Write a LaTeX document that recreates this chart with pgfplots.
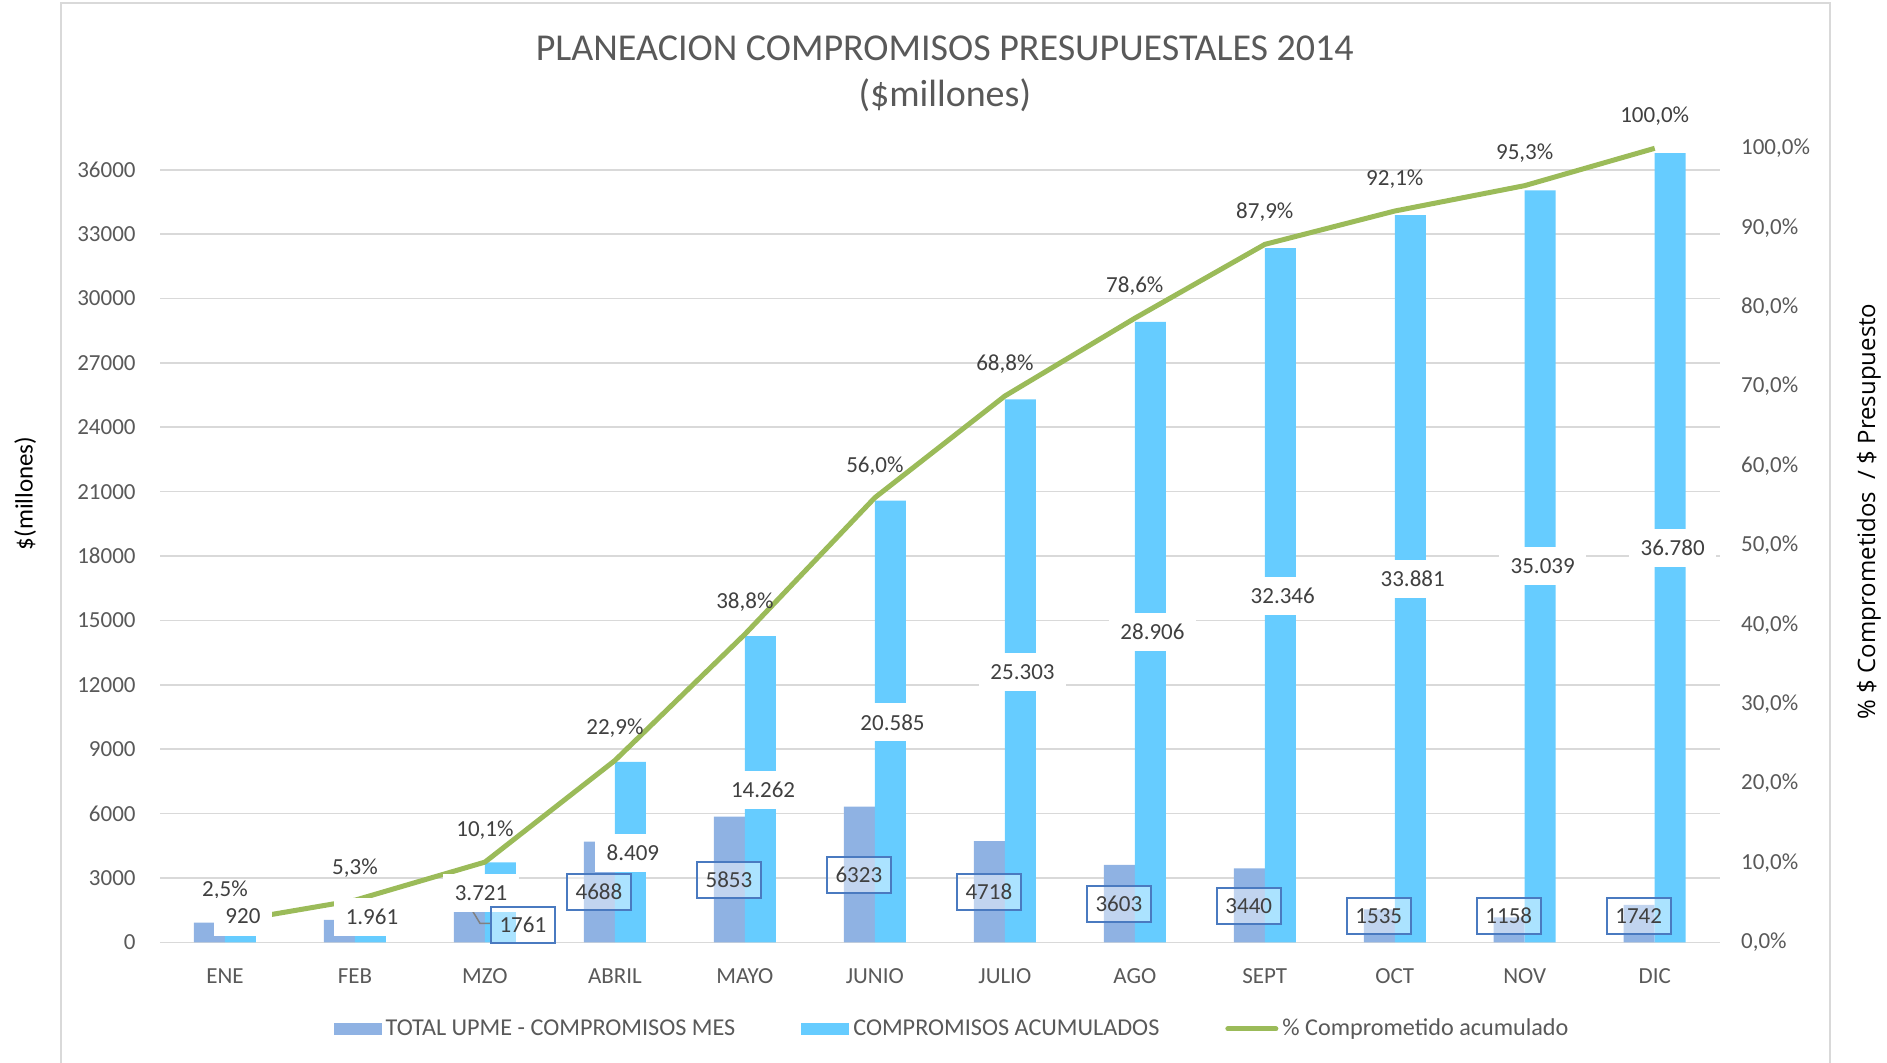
\documentclass[border=0pt]{standalone}
\usepackage{pgfplots}
\pgfplotsset{compat=1.18}
\usepackage{pgfplotstable}
\usepackage{fontspec}
\setmainfont{Carlito}
\newfontfamily\osans{Open Sans}
\definecolor{mesc}{HTML}{8FB2E3}
\definecolor{acumc}{HTML}{66CCFF}
\definecolor{linec}{HTML}{9BBB59}
\definecolor{gridc}{HTML}{D9D9D9}
\definecolor{txt}{HTML}{595959}
\definecolor{lab}{HTML}{404040}
\definecolor{boxc}{HTML}{4A7AC0}
\newcommand{\fsa}{\fontsize{11.5pt}{14pt}\selectfont}
\newcommand{\fsl}{\fontsize{12.1pt}{14pt}\selectfont}

\pgfplotstableread{
i mes acum pct
0 920 920 2.5
1 1041 1961 5.3
2 1761 3721 10.1
3 4688 8409 22.9
4 5853 14262 38.8
5 6323 20585 56.0
6 4718 25303 68.8
7 3603 28906 78.6
8 3440 32346 87.9
9 1535 33881 92.1
10 1158 35039 95.3
11 1742 36780 100.0
}\datos

\pgfplotstableread{
i val dx ly
0 920 0.138 1200
1 1961 0.131 1180
2 3721 -0.03 2283
3 8409 0.138 4180
4 14262 0.14 7097
5 20585 0.136 10250
6 25303 0.136 12610
7 28906 0.136 14469
8 32346 0.138 16150
9 33881 0.138 16938
10 35039 0.138 17544
11 36780 0.138 18374
}\acumlab

\pgfplotstableread{
i val dx ly
2 1761 0.292 811
3 4688 -0.123 2344
4 5853 -0.123 2903
5 6323 -0.123 3136
6 4718 -0.123 2345
7 3603 -0.123 1785
8 3440 -0.123 1692
9 1535 -0.123 1240
10 1158 -0.123 1240
11 1742 -0.123 1240
}\meslab

\begin{document}
\begin{tikzpicture}
\useasboundingbox (0,0) rectangle (943.5pt,531pt);
\draw[gridc, line width=1pt] (30.5pt,-5pt) -- (30.5pt,529.25pt) -- (915pt,529.25pt) -- (915pt,-5pt);

\begin{axis}[
  at={(80pt,59.85pt)}, anchor=south west,
  width=779.85pt, height=397pt, scale only axis,
  xmin=-0.5, xmax=11.5, ymin=0, ymax=37000,
  axis line style={draw=none}, major tick length=0pt,
  xtick={0,...,11},
  xticklabels={ENE,FEB,MZO,ABRIL,MAYO,JUNIO,JULIO,AGO,SEPT,OCT,NOV,DIC},
  xticklabel style={font=\fsa, text=txt, anchor=base, yshift=-20.5pt},
  ytick={0,3000,...,36000},
  scaled y ticks=false,
  yticklabel style={font=\fsa, text=txt, anchor=east, inner sep=0pt, xshift=-12pt},
  /pgf/number format/1000 sep={},
  /pgf/number format/assume math mode=true,
  ymajorgrids,
  grid style={gridc, line width=0.8pt},
  clip=false,
  legend columns=3,
  legend cell align=left,
  legend style={at={(axis description cs:0.5085,-0.109)}, anchor=center,
    draw=none, fill=none, font=\fsl, text=txt,
    /tikz/every even column/.append style={column sep=31pt}},
]
\addplot[ybar, bar width=15.5pt, bar shift=-7.75pt, fill=mesc, draw=none,
  legend image code/.code={\fill[mesc] (0pt,-3pt) rectangle (24pt,3pt);}]
  table[x=i, y=mes]{\datos};
\addlegendentry{TOTAL UPME - COMPROMISOS MES}
\addplot[ybar, bar width=15.5pt, bar shift=7.75pt, fill=acumc, draw=none,
  legend image code/.code={\fill[acumc] (0pt,-3pt) rectangle (24pt,3pt);}]
  table[x=i, y=acum]{\datos};
\addlegendentry{COMPROMISOS ACUMULADOS}
\addplot[linec, line width=2.5pt, mark=none, line join=round,
  legend image code/.code={\draw[linec, line width=2.5pt, line cap=round] (0pt,0pt) -- (24pt,0pt);},
  nodes near coords={\pgfmathprintnumber[fixed, fixed zerofill, precision=1, use comma]{\pgfplotspointmeta}\%},
  point meta=\thisrow{pct},
  every node near coord/.append style={font=\fsa, text=lab, anchor=center, yshift=16pt}]
  table[x=i, y expr=\thisrow{pct}*370]{\datos};
\addlegendentry{\% Comprometido acumulado}

\addplot[only marks, mark=none, forget plot,
  nodes near coords={\pgfmathprintnumber[fixed, precision=0, 1000 sep={.}]{\pgfplotspointmeta}},
  point meta=\thisrow{val},
  every node near coord/.append style={font=\fsa, text=lab, anchor=center, fill=white,
     inner xsep=5.75pt, inner ysep=0pt, minimum height=19pt}]
  table[x expr=\thisrow{i}+\thisrow{dx}, y=ly]{\acumlab};

\draw[gray, line width=0.75pt] (axis cs:1.908,1426) -- (axis cs:1.962,885) -- (axis cs:2.046,885);

\addplot[only marks, mark=none, forget plot,
  nodes near coords={\pgfmathprintnumber[fixed, precision=0, 1000 sep={}]{\pgfplotspointmeta}},
  point meta=\thisrow{val},
  every node near coord/.append style={font=\fsa, text=lab, anchor=center, draw=boxc,
     line width=1pt, fill=white, fill opacity=0.45, text opacity=1, draw opacity=1,
     inner sep=0pt, minimum width=32pt, minimum height=18pt}]
  table[x expr=\thisrow{i}+\thisrow{dx}, y=ly]{\meslab};
\end{axis}

\begin{axis}[
  at={(80pt,59.85pt)}, anchor=south west,
  width=779.85pt, height=397pt, scale only axis,
  xmin=-0.5, xmax=11.5, ymin=0, ymax=100,
  axis x line=none, axis y line*=right,
  axis line style={draw=none}, major tick length=0pt,
  ytick={0,10,...,100},
  yticklabels={{0,0\%},{10,0\%},{20,0\%},{30,0\%},{40,0\%},{50,0\%},{60,0\%},{70,0\%},{80,0\%},{90,0\%},{100,0\%}},
  yticklabel style={font=\fsa, text=txt, anchor=west, inner sep=0pt, xshift=10.5pt},
]
\addplot[draw=none, forget plot] coordinates {(0,0)};
\end{axis}

\node[font=\fontsize{19pt}{22pt}\selectfont, text=txt] at (472.4pt,507pt) {PLANEACION COMPROMISOS PRESUPUESTALES 2014};
\node[font=\fontsize{19pt}{22pt}\selectfont, text=txt] at (472.4pt,483.5pt) {(\$millones)};
\node[rotate=90, font=\fontsize{12.5pt}{14pt}\selectfont, text=black] at (12.6pt,284.3pt) {\$(millones)};
\node[rotate=90, font=\osans\fontsize{12pt}{14pt}\selectfont, text=black] at (934.5pt,275.3pt) {\% \$ Comprometidos~~/ \$ Presupuesto};
\end{tikzpicture}
\end{document}
